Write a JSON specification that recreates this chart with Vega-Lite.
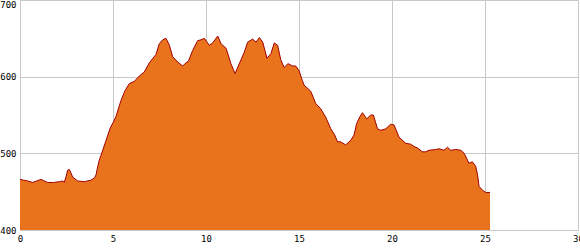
{
  "$schema": "https://vega.github.io/schema/vega-lite/v6.json",
  "width": 558,
  "height": 230,
  "autosize": "none",
  "padding": {"left": 20, "top": 0, "right": 2, "bottom": 20},
  "background": "white",
  "config": {
    "view": {"stroke": null},
    "axis": {
      "labelFont": "DejaVu Sans Mono",
      "labelFontSize": 9,
      "labelColor": "#000000",
      "gridColor": "#c8c8c8",
      "gridWidth": 1,
      "domainColor": "#c8c8c8",
      "ticks": false,
      "title": null
    }
  },
  "data": {
    "values": [
      {"km": 0.0, "elev": 466}, {"km": 0.2, "elev": 465}, {"km": 0.41, "elev": 464}, {"km": 0.68, "elev": 462},
      {"km": 0.9, "elev": 464}, {"km": 1.13, "elev": 466}, {"km": 1.3, "elev": 464}, {"km": 1.49, "elev": 462},
      {"km": 1.8, "elev": 462}, {"km": 2.11, "elev": 463}, {"km": 2.3, "elev": 464}, {"km": 2.38, "elev": 462},
      {"km": 2.48, "elev": 470}, {"km": 2.56, "elev": 478}, {"km": 2.65, "elev": 479}, {"km": 2.75, "elev": 474},
      {"km": 2.83, "elev": 469}, {"km": 3.1, "elev": 464}, {"km": 3.46, "elev": 463}, {"km": 3.82, "elev": 465},
      {"km": 4.0, "elev": 468}, {"km": 4.09, "elev": 472}, {"km": 4.18, "elev": 483}, {"km": 4.26, "elev": 491},
      {"km": 4.35, "elev": 497}, {"km": 4.6, "elev": 515}, {"km": 4.85, "elev": 533}, {"km": 5.0, "elev": 540},
      {"km": 5.16, "elev": 548}, {"km": 5.43, "elev": 569}, {"km": 5.65, "elev": 582}, {"km": 5.88, "elev": 591},
      {"km": 6.15, "elev": 594}, {"km": 6.42, "elev": 601}, {"km": 6.68, "elev": 606}, {"km": 6.95, "elev": 618},
      {"km": 7.31, "elev": 629}, {"km": 7.49, "elev": 643}, {"km": 7.67, "elev": 648}, {"km": 7.85, "elev": 650},
      {"km": 8.03, "elev": 641}, {"km": 8.21, "elev": 626}, {"km": 8.48, "elev": 619}, {"km": 8.75, "elev": 614},
      {"km": 8.92, "elev": 618}, {"km": 9.05, "elev": 620}, {"km": 9.28, "elev": 634}, {"km": 9.55, "elev": 647},
      {"km": 9.73, "elev": 648}, {"km": 9.91, "elev": 650}, {"km": 10.18, "elev": 641}, {"km": 10.36, "elev": 644},
      {"km": 10.63, "elev": 653}, {"km": 10.81, "elev": 643}, {"km": 11.08, "elev": 637}, {"km": 11.34, "elev": 617},
      {"km": 11.56, "elev": 604}, {"km": 11.88, "elev": 622}, {"km": 12.06, "elev": 632}, {"km": 12.24, "elev": 645},
      {"km": 12.51, "elev": 649}, {"km": 12.69, "elev": 645}, {"km": 12.87, "elev": 651}, {"km": 13.05, "elev": 645},
      {"km": 13.28, "elev": 624}, {"km": 13.49, "elev": 630}, {"km": 13.67, "elev": 644}, {"km": 13.85, "elev": 641},
      {"km": 14.02, "elev": 622}, {"km": 14.2, "elev": 612}, {"km": 14.41, "elev": 617}, {"km": 14.65, "elev": 614},
      {"km": 14.82, "elev": 614}, {"km": 15.0, "elev": 608}, {"km": 15.18, "elev": 595}, {"km": 15.27, "elev": 589},
      {"km": 15.63, "elev": 581}, {"km": 15.9, "elev": 565}, {"km": 16.17, "elev": 558}, {"km": 16.44, "elev": 547},
      {"km": 16.71, "elev": 532}, {"km": 16.92, "elev": 524}, {"km": 17.07, "elev": 515}, {"km": 17.24, "elev": 515},
      {"km": 17.51, "elev": 511}, {"km": 17.78, "elev": 517}, {"km": 17.96, "elev": 524}, {"km": 18.1, "elev": 539},
      {"km": 18.28, "elev": 548}, {"km": 18.41, "elev": 553}, {"km": 18.64, "elev": 545}, {"km": 18.86, "elev": 550},
      {"km": 19.0, "elev": 550}, {"km": 19.22, "elev": 532}, {"km": 19.4, "elev": 530}, {"km": 19.66, "elev": 532},
      {"km": 19.93, "elev": 538}, {"km": 20.11, "elev": 537}, {"km": 20.38, "elev": 521}, {"km": 20.74, "elev": 513},
      {"km": 21.0, "elev": 512}, {"km": 21.18, "elev": 509}, {"km": 21.37, "elev": 507}, {"km": 21.63, "elev": 502},
      {"km": 21.81, "elev": 502}, {"km": 21.99, "elev": 504}, {"km": 22.35, "elev": 505}, {"km": 22.53, "elev": 506},
      {"km": 22.8, "elev": 504}, {"km": 22.98, "elev": 508}, {"km": 23.16, "elev": 504}, {"km": 23.43, "elev": 505},
      {"km": 23.7, "elev": 504}, {"km": 23.88, "elev": 500}, {"km": 24.14, "elev": 487}, {"km": 24.32, "elev": 489},
      {"km": 24.5, "elev": 483}, {"km": 24.6, "elev": 472}, {"km": 24.68, "elev": 457}, {"km": 24.86, "elev": 452},
      {"km": 25.04, "elev": 449}, {"km": 25.27, "elev": 449}
    ]
  },
  "encoding": {
    "x": {
      "field": "km", "type": "quantitative",
      "scale": {"domain": [0, 30], "nice": false, "zero": false},
      "axis": {"values": [0, 5, 10, 15, 20, 25, 30], "labelPadding": 4, "labelFlush": false, "labelOverlap": false}
    },
    "y": {
      "field": "elev", "type": "quantitative",
      "scale": {"domain": [400, 700], "nice": false, "zero": false},
      "axis": {
        "values": [400, 500, 600, 700], "labelPadding": 4, "labelFlush": false, "labelOverlap": false,
        "labelBaseline": {"condition": {"test": "datum.value == 700", "value": "top"}, "value": "middle"}
      }
    }
  },
  "layer": [
    {"mark": {"type": "area", "color": "#E8731C", "opacity": 1}, "encoding": {"y2": {"datum": 400}}},
    {"mark": {"type": "line", "color": "#A00000", "strokeWidth": 1}}
  ]
}
